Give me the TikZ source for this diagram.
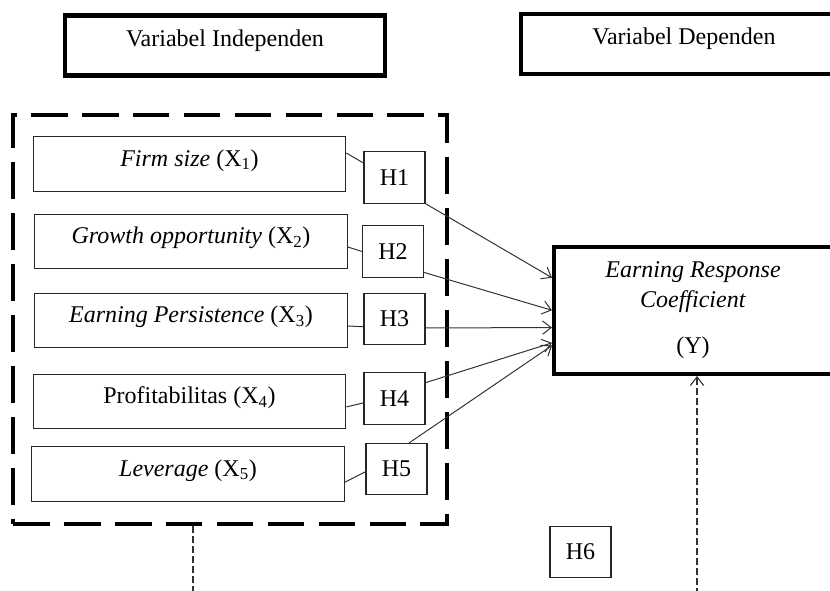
\documentclass[tikz,border=0pt]{standalone}
\usepackage{fontspec}
\setmainfont{Liberation Serif}
\usetikzlibrary{positioning,calc,arrows.meta}
\tikzset{
  titlebox/.style={draw=black,line width=3.5pt,minimum width=240pt,minimum height=45pt,
    inner sep=0pt,text depth=11.5pt,font=\fontsize{18}{21}\selectfont},
  groupbox/.style={draw=black,line width=3.6pt,dash pattern=on 27.5pt off 10.7pt,
    minimum width=325.5pt,minimum height=306.75pt,inner sep=0pt},
  varbox/.style={draw=black!85,line width=0.8pt,minimum width=234.5pt,minimum height=41pt,
    inner sep=0pt,text depth=9pt,font=\fontsize{18}{21}\selectfont},
  hbox/.style={draw=black!85,line width=0.8pt,minimum width=45.75pt,minimum height=38.5pt,
    inner sep=0pt,font=\fontsize{18}{21}\selectfont},
  ybox/.style={draw=black,line width=3pt,minimum width=208.5pt,minimum height=95.5pt,
    inner sep=0pt,align=center,font=\fontsize{18}{22}\selectfont},
  link/.style={draw=black!80,line width=0.75pt},
  flow/.style={link,-{Straight Barb[length=6.5pt,width=10pt]}},
  guide/.style={draw=black!80,line width=0.8pt,dash pattern=on 5pt off 2.5pt},
}

\begin{document}
\begin{tikzpicture}[x=0.75pt,y=-0.75pt]
\useasboundingbox (0,0) rectangle (830,591);
% judul kolom
\node[titlebox] (indep) at (225,45.7) {Variabel Independen};
\node[titlebox,minimum width=244.5pt] (dep) at (684,44) {Variabel Dependen};
% variabel X
\node[groupbox] (group) at (230,319.5) {};
\node[varbox] (firm) at (189.5,164) {\textit{Firm size} (X\textsubscript{1})};
\node[varbox] (growth) at (191,241.5) {\textit{Growth opportunity} (X\textsubscript{2})};
\node[varbox] (persist) at (191,320.5) {\textit{Earning Persistence} (X\textsubscript{3})};
\node[varbox] (profit) at (189.5,401.5) {Profitabilitas (X\textsubscript{4})};
\node[varbox] (lev) at (188,474) {\textit{Leverage} (X\textsubscript{5})};
% hipotesis
\node[hbox] (H1) at (394.5,177.5) {H1};
\node[hbox] (H2) at (393,251.5) {H2};
\node[hbox] (H3) at (394.5,319) {H3};
\node[hbox] (H4) at (394.5,398.5) {H4};
\node[hbox] (H5) at (396.5,469) {H5};
\node[hbox] (H6) at (580.5,552) {H6};
% variabel Y
\node[ybox] (erc) at (693,310.3) {\textit{Earning Response}\\\textit{Coefficient}\\[13pt](Y)};
% garis X ke H
\foreach \a/\b in {firm.4/H1.155,growth.-2/H2.west,persist.-2.4/H3.194.7,profit.-2.7/H4.188.4,lev.-3.7/H5.185.6}
  \draw[link] (\a) -- (\b);
% panah H ke Y
\foreach \a/\b in {H1.south east/erc.167,H2.-34.3/erc.west,H3.-16/erc.187,H4.27/erc.193,H5.64.3/erc.194.5}
  \draw[flow] (\a) -- (\b);
% garis putus-putus
\coordinate (down) at (193,595);
\coordinate (up) at (697,595);
\draw[guide] (group.south -| down) -- (down);
\draw[guide,-{Straight Barb[length=6.5pt,width=10pt]}] (up) -- (up |- erc.south);
\end{tikzpicture}
\end{document}
